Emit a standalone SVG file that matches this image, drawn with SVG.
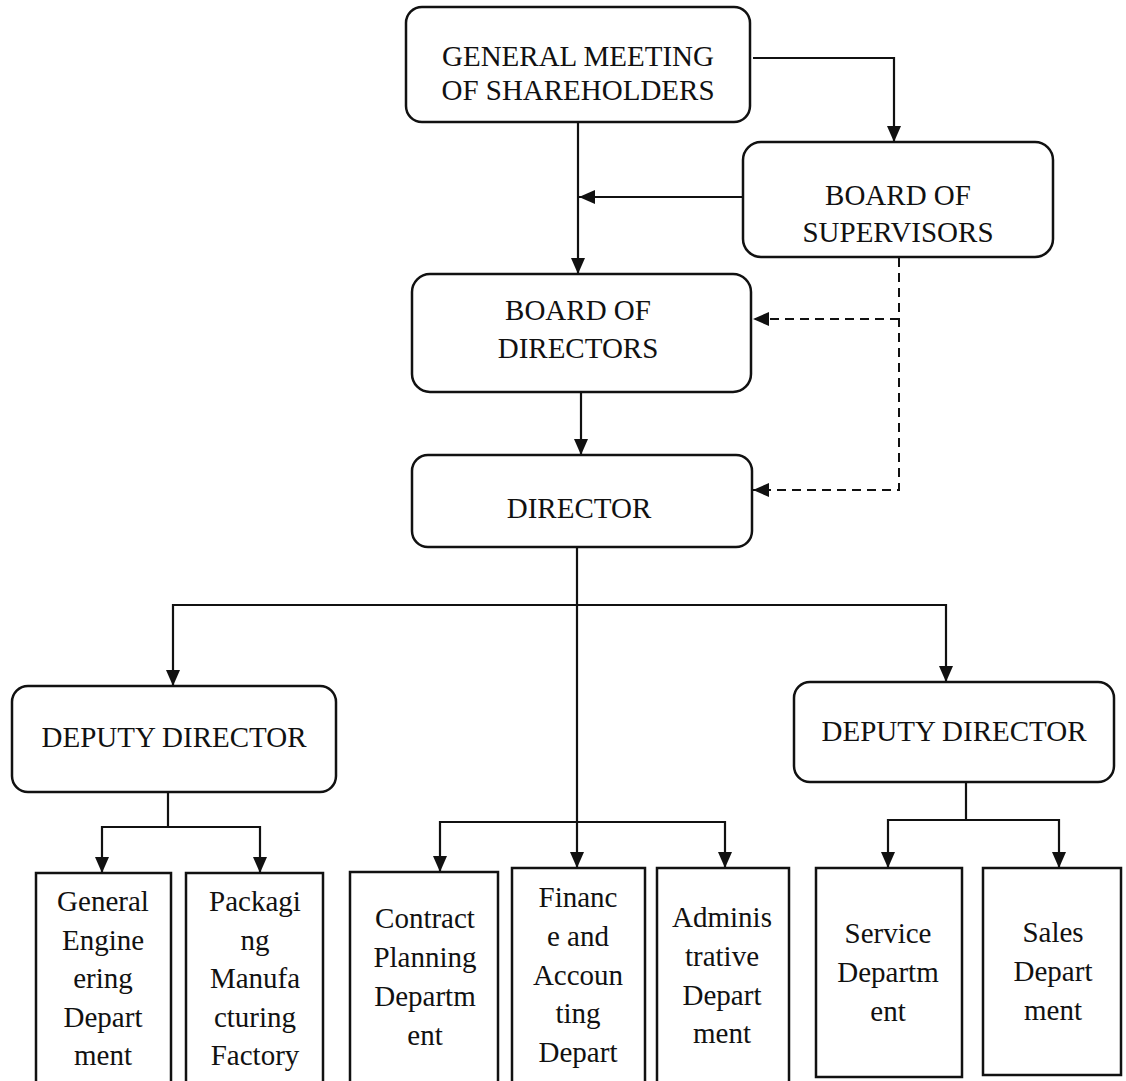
<svg xmlns="http://www.w3.org/2000/svg" width="1126" height="1081" viewBox="0 0 1126 1081">
<style>
.rbox{fill:#fff;stroke:#111;stroke-width:2.5}
.sbox{fill:#fff;stroke:#111;stroke-width:2.5}
.t{font-family:'Liberation Serif','Times New Roman',Times,serif;font-size:29px;fill:#111;text-anchor:middle}
.ln{fill:none;stroke:#111;stroke-width:2.2}
.dash{fill:none;stroke:#111;stroke-width:2;stroke-dasharray:9 6}
</style>
<defs>
<marker id="ah" viewBox="0 0 16 14" refX="16" refY="7" markerWidth="16" markerHeight="14" markerUnits="userSpaceOnUse" orient="auto">
<path d="M0,0 L16,7 L0,14 z" fill="#111"/>
</marker>
</defs>
<rect width="1126" height="1081" fill="#fff"/>

<g id="connectors">
<path class="ln" d="M753,58 H894 V142" marker-end="url(#ah)"/>
<path class="ln" d="M578,122 V274" marker-end="url(#ah)"/>
<path class="ln" d="M743,197 H579" marker-end="url(#ah)"/>
<path class="ln" d="M581,392 V455" marker-end="url(#ah)"/>
<path class="dash" d="M899,258 V490 H753" marker-end="url(#ah)"/>
<path class="dash" d="M899,319 H753" marker-end="url(#ah)"/>
<path class="ln" d="M577,547 V868" marker-end="url(#ah)"/>
<path class="ln" d="M577,605 H173 V686" marker-end="url(#ah)"/>
<path class="ln" d="M577,605 H946 V682" marker-end="url(#ah)"/>
<path class="ln" d="M168,792 V827 H102 V873" marker-end="url(#ah)"/>
<path class="ln" d="M168,827 H260 V873" marker-end="url(#ah)"/>
<path class="ln" d="M577,822 H440 V872" marker-end="url(#ah)"/>
<path class="ln" d="M577,822 H725 V868" marker-end="url(#ah)"/>
<path class="ln" d="M966,782 V820 H888 V868" marker-end="url(#ah)"/>
<path class="ln" d="M966,820 H1059 V868" marker-end="url(#ah)"/>
</g>

<g id="general-meeting">
<rect class="rbox" x="406" y="7" width="344" height="115" rx="16"/>
<text class="t" font-family="Liberation Serif, serif" x="578" y="66">GENERAL MEETING</text>
<text class="t" font-family="Liberation Serif, serif" x="578" y="100">OF SHAREHOLDERS</text>
</g>

<g id="board-of-supervisors">
<rect class="rbox" x="743" y="142" width="310" height="115" rx="18"/>
<text class="t" x="898" y="205">BOARD OF</text>
<text class="t" x="898" y="242">SUPERVISORS</text>
</g>

<g id="board-of-directors">
<rect class="rbox" x="412" y="274" width="339" height="118" rx="18"/>
<text class="t" x="578" y="320">BOARD OF</text>
<text class="t" x="578" y="358">DIRECTORS</text>
</g>

<g id="director">
<rect class="rbox" x="412" y="455" width="340" height="92" rx="16"/>
<text class="t" x="579" y="518">DIRECTOR</text>
</g>

<g id="deputy-director-left">
<rect class="rbox" x="12" y="686" width="324" height="106" rx="16"/>
<text class="t" x="174" y="747">DEPUTY DIRECTOR</text>
</g>

<g id="deputy-director-right">
<rect class="rbox" x="794" y="682" width="320" height="100" rx="16"/>
<text class="t" x="954" y="741">DEPUTY DIRECTOR</text>
</g>

<g id="general-engineering">
<rect class="sbox" x="36" y="873" width="135" height="220"/>
<text class="t" x="103" y="911">General</text>
<text class="t" x="103" y="950">Engine</text>
<text class="t" x="103" y="988">ering</text>
<text class="t" x="103" y="1027">Depart</text>
<text class="t" x="103" y="1065">ment</text>
</g>

<g id="packaging-factory">
<rect class="sbox" x="186" y="873" width="137" height="220"/>
<text class="t" x="255" y="911">Packagi</text>
<text class="t" x="255" y="950">ng</text>
<text class="t" x="255" y="988">Manufa</text>
<text class="t" x="255" y="1027">cturing</text>
<text class="t" x="255" y="1065">Factory</text>
</g>

<g id="contract-planning">
<rect class="sbox" x="350" y="872" width="148" height="220"/>
<text class="t" x="425" y="928">Contract</text>
<text class="t" x="425" y="967">Planning</text>
<text class="t" x="425" y="1006">Departm</text>
<text class="t" x="425" y="1045">ent</text>
</g>

<g id="finance-accounting">
<rect class="sbox" x="512" y="868" width="133" height="225"/>
<text class="t" x="578" y="907">Financ</text>
<text class="t" x="578" y="946">e and</text>
<text class="t" x="578" y="985">Accoun</text>
<text class="t" x="578" y="1023">ting</text>
<text class="t" x="578" y="1062">Depart</text>
</g>

<g id="administrative">
<rect class="sbox" x="657" y="868" width="132" height="225"/>
<text class="t" x="722" y="927">Adminis</text>
<text class="t" x="722" y="966">trative</text>
<text class="t" x="722" y="1005">Depart</text>
<text class="t" x="722" y="1043">ment</text>
</g>

<g id="service">
<rect class="sbox" x="816" y="868" width="146" height="209"/>
<text class="t" x="888" y="943">Service</text>
<text class="t" x="888" y="982">Departm</text>
<text class="t" x="888" y="1021">ent</text>
</g>

<g id="sales">
<rect class="sbox" x="983" y="868" width="138" height="207"/>
<text class="t" x="1053" y="942">Sales</text>
<text class="t" x="1053" y="981">Depart</text>
<text class="t" x="1053" y="1020">ment</text>
</g>
</svg>
